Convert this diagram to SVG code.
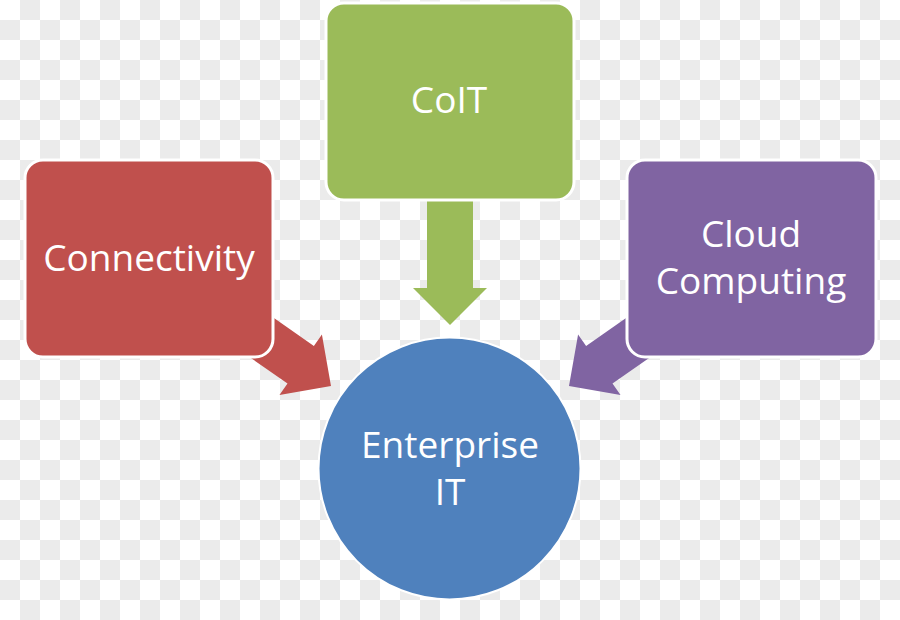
<svg xmlns="http://www.w3.org/2000/svg" width="900" height="620" viewBox="0 0 900 620">
  <defs>
    <pattern id="checker" x="0" y="0" width="40" height="40" patternUnits="userSpaceOnUse">
      <rect x="0" y="0" width="40" height="40" fill="#ffffff"/>
      <rect x="20" y="0" width="20" height="20" fill="#ebebeb"/>
      <rect x="0" y="20" width="20" height="20" fill="#ebebeb"/>
    </pattern>
    <polygon id="arrowShape" points="0,0 -37,-37 -37,-23 -125,-23 -125,23 -37,23 -37,37"/>
  </defs>
  <style>
    .box { stroke: #ffffff; stroke-width: 3; }
    .label { font-family: "Open Sans", "Noto Sans", "Liberation Sans", sans-serif; font-size: 37px; fill: #ffffff; text-anchor: middle; }
  </style>
  <rect x="0" y="0" width="900" height="620" fill="url(#checker)"/>

  <g id="connectors">
    <use href="#arrowShape" fill="#C0504D" transform="translate(331,386) rotate(35)"/>
    <use href="#arrowShape" fill="#9BBB59" transform="translate(450,325) rotate(90)"/>
    <use href="#arrowShape" fill="#8064A2" transform="translate(569,386) rotate(145)"/>
  </g>

  <g id="connectivity">
    <rect class="box" x="25" y="160" width="248" height="197" rx="18" fill="#C0504D"/>
    <text class="label" x="149" y="271">Connectivity</text>
  </g>
  <g id="coit">
    <rect class="box" x="326" y="3" width="248" height="197" rx="18" fill="#9BBB59"/>
    <text class="label" x="449" y="113">CoIT</text>
  </g>
  <g id="cloud">
    <rect class="box" x="627" y="160" width="249" height="197" rx="18" fill="#8064A2"/>
    <text class="label" x="751" y="247">Cloud</text>
    <text class="label" x="751" y="294">Computing</text>
  </g>
  <g id="enterprise">
    <circle cx="449.5" cy="468.5" r="131" fill="#4F81BD" stroke="#ffffff" stroke-width="2"/>
    <text class="label" x="450" y="458">Enterprise</text>
    <text class="label" x="450" y="505">IT</text>
  </g>
</svg>
